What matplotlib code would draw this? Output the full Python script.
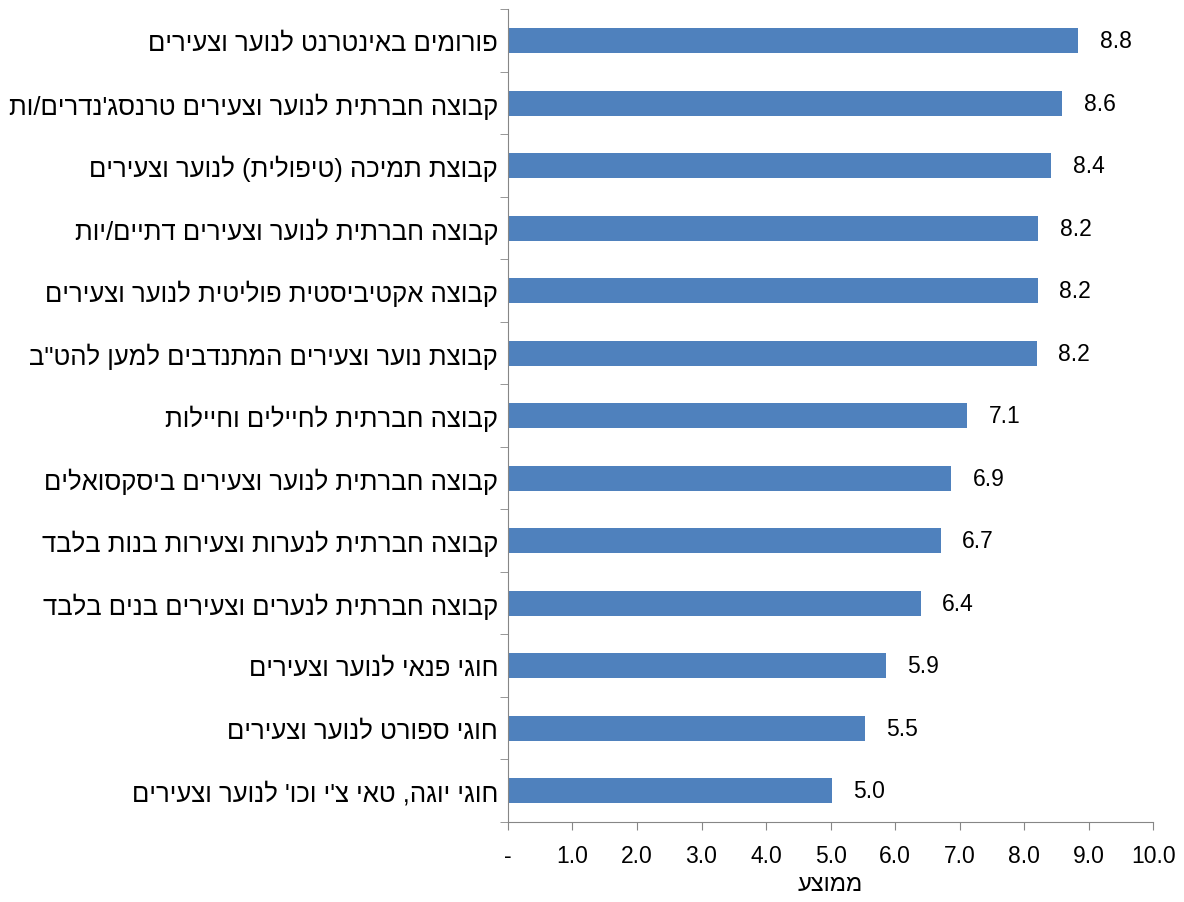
import matplotlib.pyplot as plt
import numpy as np

plt.rcParams['font.family'] = ['Liberation Sans', 'DejaVu Sans']

# נתונים (מלמעלה למטה)
categories = [
    "פורומים באינטרנט לנוער וצעירים",
    "קבוצה חברתית לנוער וצעירים טרנסג'נדרים/ות",
    "קבוצת תמיכה (טיפולית) לנוער וצעירים",
    "קבוצה חברתית לנוער וצעירים דתיים/יות",
    "קבוצה אקטיביסטית פוליטית לנוער וצעירים",
    "קבוצת נוער וצעירים המתנדבים למען להט\"ב",
    "קבוצה חברתית לחיילים וחיילות",
    "קבוצה חברתית לנוער וצעירים ביסקסואלים",
    "קבוצה חברתית לנערות וצעירות בנות בלבד",
    "קבוצה חברתית לנערים וצעירים בנים בלבד",
    "חוגי פנאי לנוער וצעירים",
    "חוגי ספורט לנוער וצעירים",
    "חוגי יוגה, טאי צ'י וכו' לנוער וצעירים",
]
values = [8.84, 8.59, 8.42, 8.22, 8.21, 8.20, 7.12, 6.87, 6.71, 6.40, 5.86, 5.53, 5.02]
x_ticks = [0, 1, 2, 3, 4, 5, 6, 7, 8, 9, 10]
x_label = "ממוצע"


def rtl(s):
    # matplotlib ritar vänster->höger, så vänd texten och spegla parenteser
    r = s[::-1]
    return r.translate(str.maketrans("()", ")("))


fig = plt.figure(figsize=(11.84, 9.03), dpi=100)
ax = fig.add_axes([0.429, 0.0886, 0.545, 0.9])

n = len(categories)
y = np.arange(n)
ax.barh(y, values, height=0.4, color="#4F81BD")
ax.set_ylim(n - 0.5, -0.5)
ax.set_xlim(0, 10)

ax.set_yticks(y)
ax.set_yticklabels([rtl(c) for c in categories], fontsize=18.5)
ax.set_yticks(np.arange(-0.5, n, 1), minor=True)
ax.tick_params(axis="y", which="major", length=0, pad=7)
ax.tick_params(axis="y", which="minor", length=6, color="#868686", direction="out")

ax.set_xticks(x_ticks)
ax.set_xticklabels(["-"] + ["%.1f" % t for t in x_ticks[1:]], fontsize=16.5)
ax.tick_params(axis="x", length=6, color="#868686", direction="out", pad=10)
ax.set_xlabel(rtl(x_label), fontsize=17, labelpad=4)

for s in ["top", "right"]:
    ax.spines[s].set_visible(False)
for s in ["left", "bottom"]:
    ax.spines[s].set_color("#868686")

for i, v in enumerate(values):
    ax.text(v + 0.33, i, "%.1f" % v, va="center", ha="left", fontsize=16.5)

fig.savefig("out.png", dpi=100)
